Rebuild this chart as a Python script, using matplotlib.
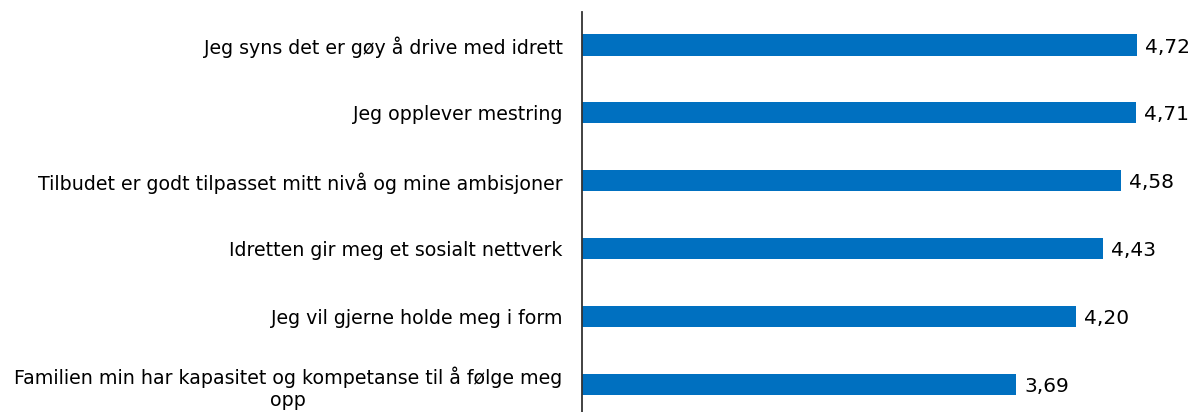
import matplotlib
matplotlib.use("Agg")
import matplotlib.pyplot as plt

categories = [
    "Jeg syns det er gøy å drive med idrett",
    "Jeg opplever mestring",
    "Tilbudet er godt tilpasset mitt nivå og mine ambisjoner",
    "Idretten gir meg et sosialt nettverk",
    "Jeg vil gjerne holde meg i form",
    "Familien min har kapasitet og kompetanse til å følge meg\nopp",
]
values = [4.72, 4.71, 4.58, 4.43, 4.20, 3.69]
value_labels = ["4,72", "4,71", "4,58", "4,43", "4,20", "3,69"]

plt.rcParams['font.family'] = ['DejaVu Sans']
fig = plt.figure(figsize=(11.92, 4.12), dpi=100)
ax = fig.add_axes([582/1192, 0, 588/1192, 1 - 12/412])

pos = list(range(len(categories)))
ax.barh(pos, values, height=0.31, color="#0070C0")
ax.set_xlim(0, 5)
ax.set_ylim(5.4, -0.485)
ax.set_yticks(pos)
ax.set_yticklabels(categories, fontsize=13.7, multialignment='center')
ax.tick_params(axis='y', length=0, pad=14)
ax.set_xticks([])
for s in ['top', 'right', 'bottom']:
    ax.spines[s].set_visible(False)
ax.spines['left'].set_color('#333333')
ax.spines['left'].set_linewidth(1.3)

for p, v, lab in zip(pos, values, value_labels):
    ax.text(v + 0.07, p + 0.03, lab, va='center', ha='left', fontsize=14.5)

fig.savefig("out.png", dpi=100)
